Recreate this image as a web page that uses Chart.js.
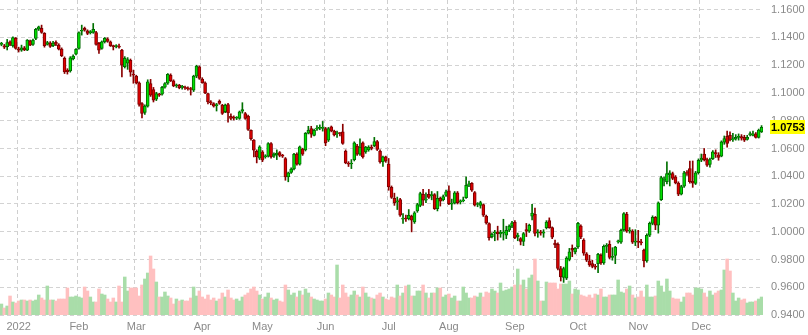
<!DOCTYPE html>
<html>
<head>
<meta charset="utf-8">
<script src="https://cdn.jsdelivr.net/npm/chart.js@4.4.1/dist/chart.umd.min.js"></script>
<style>
html,body{margin:0;padding:0;background:#ffffff;}
#wrap{width:808px;height:335px;position:relative;}
</style>
</head>
<body>
<div id="wrap"><canvas id="c" width="808" height="335"></canvas></div>
<script>
// ---- categories: trading days 2021-12-24 .. 2022-12-30 ----
const dates = [];
for (let d = new Date(Date.UTC(2021, 11, 24)); d <= new Date(Date.UTC(2022, 11, 30)); d.setUTCDate(d.getUTCDate() + 1)) {
  const w = d.getUTCDay();
  if (w > 0 && w < 6) dates.push(d.toISOString().slice(0, 10));
}
const monthLabels = ['2022','Feb','Mar','Apr','May','Jun','Jul','Aug','Sep','Oct','Nov','Dec'];
const yTicks = [0.94,0.96,0.98,1.00,1.02,1.04,1.06,1.08,1.10,1.12,1.14,1.16];

// ---- series values ----
const opens = [
1.1350,1.1340,1.1333,1.1368,1.1340,1.1393,1.1318,1.1309,1.1325,1.1309,1.1376,1.1350,1.1393,1.1460,1.1465,1.1429,1.1350,1.1362,1.1340,1.1365,
1.1345,1.1316,1.1249,1.1165,1.1159,1.1245,1.1280,1.1321,1.1445,1.1465,1.1448,1.1435,1.1436,1.1436,1.1357,1.1321,1.1369,1.1390,1.1369,1.1338,
1.1335,1.1336,1.1309,1.1190,1.1215,1.1235,1.1130,1.1121,1.1073,1.0924,1.0860,1.0905,1.1068,1.1025,1.0955,1.0988,1.0992,1.1042,1.1070,1.1128,
1.1088,1.1052,1.1056,1.1040,1.1042,1.1035,1.1030,1.1020,1.1121,1.1188,
1.1100,1.1073,1.0996,1.0932,1.0924,1.0909,1.0940,1.0912,1.0865,1.0917,1.0832,1.0820,1.0818,1.0816,1.0868,1.0852,1.0833,1.0730,1.0660,1.0580,
1.0530,1.0575,1.0540,1.0545,1.0636,1.0545,1.0553,1.0570,1.0548,1.0528,1.0395,1.0428,1.0452,1.0559,1.0487,1.0595,1.0590,1.0710,1.0744,1.0695,
1.0740,1.0746,1.0745,1.0744,1.0660,1.0756,1.0726,1.0705,1.0710,1.0720,1.0582,1.0490,1.0488,1.0520,1.0617,1.0559,1.0640,1.0575,1.0590,1.0610,
1.0620,1.0650,1.0582,1.0503,1.0539,1.0487,1.0320,1.0240,1.0215,1.0232,1.0090,1.0098,1.0095,1.0112,1.0070,1.0150,1.0190,1.0270,1.0228,1.0270,
1.0260,1.0268,1.0167,1.0240,1.0230,1.0262,1.0294,1.0198,1.0206,1.0280,1.0215,1.0222,1.0245,1.0338,1.0348,1.0283,1.0196,1.0190,1.0196,1.0112,
1.0058,0.9965,0.9990,1.0000,0.9985,0.9990,0.9975,1.0011,1.0040,1.0070,0.9965,0.9950,0.9930,1.0015,1.0004,1.0112,1.0126,0.9993,0.9995,0.9990,
1.0030,1.0080,1.0030,0.9918,0.9910,0.9735,0.9670,0.9665,0.9800,0.9880,0.9855,0.9890,1.0040,0.9940,0.9840,0.9790,0.9770,0.9752,0.9770,0.9830,
0.9775,0.9895,0.9910,0.9815,0.9830,0.9927,0.9925,1.0015,1.0126,1.0005,1.0005,0.9925,0.9928,0.9925,0.9867,0.9790,0.9975,1.0060,1.0103,1.0047,
1.0232,1.0371,1.0360,1.0410,1.0420,1.0395,1.0350,1.0270,1.0328,1.0425,1.0455,1.0365,1.0348,1.0425,1.0515,1.0560,1.0520,1.0485,1.0527,1.0570,
1.0555,1.0545,1.0645,1.0688,1.0695,1.0662,1.0668,1.0680,1.0685,1.0680,1.0665,1.0700,1.0695,1.0705,1.0680,1.0720
];
const highs = [
1.1365,1.1350,1.1386,1.1375,1.1405,1.1400,1.1330,1.1345,1.1335,1.1385,1.1382,1.1388,1.1465,1.1482,1.1489,1.1435,1.1372,1.1370,1.1372,1.1375,
1.1355,1.1325,1.1260,1.1175,1.1262,1.1275,1.1320,1.1440,1.1489,1.1475,1.1455,1.1450,1.1501,1.1445,1.1365,1.1375,1.1400,1.1398,1.1375,1.1345,
1.1348,1.1352,1.1315,1.1262,1.1255,1.1245,1.1165,1.1128,1.1080,1.0930,1.0915,1.1095,1.1098,1.1040,1.1005,1.0998,1.1048,1.1075,1.1140,1.1138,
1.1095,1.1065,1.1062,1.1055,1.1050,1.1045,1.1040,1.1128,1.1200,1.1195,
1.1110,1.1080,1.1000,1.0945,1.0930,1.0925,1.0950,1.0918,1.0920,1.0925,1.0850,1.0835,1.0830,1.0870,1.0930,1.0860,1.0840,1.0735,1.0665,1.0590,
1.0620,1.0585,1.0555,1.0642,1.0642,1.0568,1.0590,1.0578,1.0558,1.0535,1.0430,1.0460,1.0565,1.0568,1.0618,1.0602,1.0715,1.0760,1.0760,1.0740,
1.0765,1.0770,1.0795,1.0752,1.0752,1.0762,1.0732,1.0725,1.0715,1.0775,1.0590,1.0505,1.0520,1.0648,1.0630,1.0670,1.0648,1.0615,1.0620,1.0625,
1.0680,1.0658,1.0590,1.0545,1.0545,1.0528,1.0330,1.0278,1.0250,1.0240,1.0130,1.0120,1.0160,1.0120,1.0145,1.0205,1.0285,1.0305,1.0280,1.0305,
1.0290,1.0275,1.0290,1.0250,1.0265,1.0300,1.0330,1.0235,1.0290,1.0290,1.0230,1.0250,1.0395,1.0365,1.0355,1.0290,1.0210,1.0220,1.0200,1.0120,
1.0065,0.9992,1.0010,1.0040,1.0010,1.0090,1.0040,1.0050,1.0075,1.0080,0.9990,0.9958,0.9995,1.0060,1.0055,1.0198,1.0170,1.0015,1.0010,1.0015,
1.0080,1.0100,1.0035,0.9940,0.9920,0.9750,0.9745,0.9820,0.9880,0.9905,0.9885,1.0068,1.0050,0.9950,0.9850,0.9830,0.9795,0.9765,0.9845,0.9840,
0.9905,0.9915,0.9935,0.9885,0.9895,0.9940,1.0020,1.0138,1.0140,1.0030,1.0015,1.0015,1.0010,0.9945,0.9875,0.9985,1.0070,1.0115,1.0110,1.0215,
1.0400,1.0395,1.0503,1.0440,1.0430,1.0405,1.0360,1.0335,1.0435,1.0440,1.0510,1.0510,1.0435,1.0525,1.0560,1.0600,1.0530,1.0530,1.0585,1.0590,
1.0570,1.0655,1.0690,1.0725,1.0720,1.0710,1.0700,1.0705,1.0700,1.0695,1.0695,1.0720,1.0725,1.0715,1.0740,1.0765
];
const lows = [
1.1340,1.1320,1.1310,1.1340,1.1330,1.1315,1.1295,1.1300,1.1305,1.1305,1.1340,1.1342,1.1385,1.1450,1.1430,1.1330,1.1345,1.1328,1.1333,1.1340,
1.1310,1.1262,1.1140,1.1136,1.1150,1.1238,1.1275,1.1315,1.1417,1.1445,1.1420,1.1425,1.1430,1.1345,1.1285,1.1315,1.1360,1.1365,1.1335,1.1310,
1.1325,1.1322,1.1116,1.1180,1.1170,1.1120,1.1070,1.1065,1.0905,1.0820,1.0845,1.0898,1.0975,1.0935,1.0945,1.0975,1.0985,1.1035,1.1062,1.1082,
1.1045,1.1040,1.1030,1.1028,1.1025,1.1020,1.0985,1.1010,1.1110,1.1098,
1.1070,1.0995,1.0922,1.0915,1.0898,1.0870,1.0918,1.0845,1.0858,1.0789,1.0805,1.0805,1.0808,1.0810,1.0855,1.0810,1.0730,1.0660,1.0539,1.0496,
1.0520,1.0505,1.0530,1.0538,1.0530,1.0535,1.0520,1.0540,1.0535,1.0371,1.0360,1.0420,1.0445,1.0480,1.0480,1.0550,1.0582,1.0705,1.0680,1.0690,
1.0730,1.0735,1.0725,1.0620,1.0650,1.0720,1.0690,1.0680,1.0690,1.0630,1.0490,1.0470,1.0455,1.0510,1.0550,1.0550,1.0530,1.0565,1.0580,1.0590,
1.0612,1.0585,1.0495,1.0470,1.0500,1.0299,1.0240,1.0190,1.0160,1.0110,1.0060,1.0075,1.0085,0.9999,1.0060,1.0140,1.0180,1.0190,1.0210,1.0240,
1.0230,1.0160,1.0150,1.0185,1.0222,1.0255,1.0195,1.0160,1.0200,1.0200,1.0200,1.0215,1.0240,1.0325,1.0290,1.0185,1.0180,1.0170,1.0110,1.0055,
0.9939,0.9955,0.9935,0.9940,0.9960,0.9940,0.9950,1.0000,1.0030,0.9950,0.9935,0.9905,0.9900,0.9965,0.9995,1.0085,0.9970,0.9960,0.9975,0.9960,
1.0020,1.0025,0.9950,0.9885,0.9725,0.9645,0.9635,0.9655,0.9790,0.9820,0.9840,0.9880,0.9950,0.9830,0.9785,0.9750,0.9740,0.9730,0.9705,0.9765,
0.9765,0.9850,0.9805,0.9795,0.9770,0.9918,0.9915,1.0005,0.9995,0.9990,0.9915,0.9900,0.9885,0.9905,0.9746,0.9780,0.9965,1.0050,1.0015,0.9990,
1.0225,1.0330,1.0345,1.0330,1.0375,1.0345,1.0260,1.0265,1.0320,1.0405,1.0350,1.0320,1.0340,1.0415,1.0505,1.0510,1.0470,1.0465,1.0520,1.0535,
1.0515,1.0540,1.0630,1.0610,1.0655,1.0650,1.0660,1.0660,1.0660,1.0650,1.0660,1.0690,1.0690,1.0675,1.0675,1.0715
];
const closes = [
1.1355,1.1330,1.1364,1.1350,1.1400,1.1321,1.1308,1.1325,1.1310,1.1381,1.1345,1.1381,1.1458,1.1477,1.1436,1.1340,1.1364,1.1335,1.1360,1.1350,
1.1316,1.1268,1.1152,1.1153,1.1253,1.1265,1.1314,1.1436,1.1450,1.1453,1.1430,1.1440,1.1458,1.1350,1.1309,1.1369,1.1393,1.1372,1.1340,1.1334,
1.1338,1.1330,1.1200,1.1250,1.1240,1.1150,1.1128,1.1073,1.0917,1.0852,1.0905,1.1080,1.0984,1.0948,1.0996,1.0985,1.1040,1.1068,1.1135,1.1088,
1.1051,1.1055,1.1039,1.1042,1.1036,1.1030,1.1025,1.1121,1.1193,1.1104,
1.1075,1.1001,1.0936,1.0929,1.0905,1.0915,1.0925,1.0852,1.0912,1.0857,1.0816,1.0818,1.0822,1.0864,1.0880,1.0816,1.0737,1.0670,1.0588,1.0539,
1.0612,1.0515,1.0545,1.0636,1.0539,1.0560,1.0567,1.0550,1.0545,1.0395,1.0424,1.0452,1.0559,1.0487,1.0611,1.0559,1.0710,1.0730,1.0703,1.0730,
1.0744,1.0750,1.0748,1.0640,1.0744,1.0727,1.0697,1.0712,1.0708,1.0636,1.0496,1.0487,1.0494,1.0640,1.0559,1.0610,1.0539,1.0610,1.0610,1.0600,
1.0650,1.0593,1.0503,1.0539,1.0510,1.0323,1.0248,1.0210,1.0222,1.0119,1.0098,1.0092,1.0119,1.0083,1.0136,1.0195,1.0275,1.0227,1.0235,1.0248,
1.0265,1.0167,1.0240,1.0220,1.0253,1.0287,1.0203,1.0200,1.0280,1.0210,1.0218,1.0230,1.0335,1.0345,1.0299,1.0191,1.0196,1.0210,1.0119,1.0063,
0.9958,0.9982,0.9994,0.9985,0.9995,0.9994,1.0011,1.0040,1.0065,0.9958,0.9975,0.9930,0.9987,1.0005,1.0047,1.0135,0.9987,0.9995,0.9990,1.0000,
1.0070,1.0030,0.9960,0.9905,0.9735,0.9674,0.9735,0.9810,0.9855,0.9867,0.9880,1.0060,0.9962,0.9846,0.9795,0.9760,0.9750,0.9745,0.9837,0.9775,
0.9895,0.9897,0.9815,0.9818,0.9890,0.9930,1.0010,1.0130,1.0005,1.0008,0.9925,0.9928,0.9925,0.9920,0.9790,0.9975,1.0060,1.0103,1.0047,1.0208,
1.0391,1.0375,1.0420,1.0425,1.0385,1.0352,1.0270,1.0325,1.0425,1.0422,1.0360,1.0350,1.0425,1.0515,1.0530,1.0520,1.0480,1.0520,1.0575,1.0560,
1.0535,1.0648,1.0672,1.0636,1.0665,1.0670,1.0680,1.0682,1.0675,1.0660,1.0680,1.0702,1.0705,1.0680,1.0732,1.0753
];
const volumes = [
11,7,9,19,13,12,14,15,15,14,15,14,15,20,17,15,29,15,15,14,16,16,16,27,18,18,19,18,17,28,24,18,13,13,26,21,20,16,13,17,
13,29,13,38,24,27,27,27,19,30,36,42,59,46,33,18,18,23,19,17,11,16,14,15,14,14,17,28,19,24,
18,16,20,15,17,14,16,22,18,25,17,15,16,14,18,20,22,26,28,24,20,16,18,22,17,15,16,14,13,30,25,20,22,18,24,20,26,22,18,16,
15,14,14,16,22,20,18,50,17,30,22,18,20,24,20,18,28,22,18,17,16,20,22,18,16,15,18,17,30,
19,22,29,30,19,19,24,24,30,22,17,22,22,27,27,18,20,21,17,19,14,14,28,22,17,17,19,18,22,18,23,22,26,24,22,32,24,25,26,28,
30,46,30,35,26,37,40,56,34,14,14,33,32,32,32,26,31,31,31,34,21,26,25,20,19,18,20,17,21,20,
26,18,18,20,20,20,35,23,22,26,29,20,17,18,24,18,30,18,18,19,34,29,23,36,24,17,16,16,13,18,22,22,20,27,27,26,22,18,24,20,
22,24,25,45,56,44,22,14,17,15,16,12,13,13,14,16,18
];

const up = i => closes[i] >= opens[i];
const isMonthStart = i => i > 0 && dates[i].slice(5, 7) !== dates[i - 1].slice(5, 7);

const lastLabel = {
  id: 'lastLabel',
  afterDraw(chart) {
    const ctx = chart.ctx;
    const last = closes[closes.length - 1];
    const y = Math.round(chart.scales.y.getPixelForValue(last));
    const x = chart.chartArea.right + 7;
    ctx.save();
    ctx.fillStyle = '#ffff00';
    ctx.fillRect(x, y - 7, 35, 14);
    ctx.fillStyle = '#000000';
    ctx.font = 'bold 11px "Liberation Sans", Arial, sans-serif';
    ctx.textBaseline = 'middle';
    ctx.textAlign = 'left';
    ctx.fillText(last.toFixed(4), x + 1, y + 0.5);
    ctx.restore();
  }
};

new Chart(document.getElementById('c'), {
  type: 'bar',
  data: {
    labels: dates,
    datasets: [
      {
        label: 'body',
        data: opens.map((o, i) => [o, closes[i]]),
        yAxisID: 'y',
        backgroundColor: c => up(c.dataIndex) ? '#00e000' : '#dd0000',
        borderColor: c => up(c.dataIndex) ? '#006a00' : '#7a0000',
        borderWidth: 1,
        borderSkipped: false,
        barThickness: 3,
        minBarLength: 1,
        grouped: false,
        order: 0
      },
      {
        label: 'wick',
        data: lows.map((l, i) => [l, highs[i]]),
        yAxisID: 'y',
        backgroundColor: c => up(c.dataIndex) ? '#007000' : '#8a0000',
        borderWidth: 0,
        barThickness: 1,
        grouped: false,
        order: 1
      },
      {
        label: 'volume',
        data: volumes,
        yAxisID: 'yv',
        backgroundColor: c => up(c.dataIndex) ? '#a9dda9' : '#ffc0c0',
        borderWidth: 0,
        barPercentage: 1,
        categoryPercentage: 1,
        grouped: false,
        order: 2
      }
    ]
  },
  options: {
    responsive: false,
    animation: false,
    devicePixelRatio: 1,
    events: [],
    layout: { padding: 0 },
    plugins: { legend: { display: false }, tooltip: { enabled: false } },
    scales: {
      x: {
        offset: true,
        grid: {
          offset: true,
          drawTicks: false,
          color: c => isMonthStart(c.index) ? '#cfcfcf' : 'rgba(0,0,0,0)',
          lineWidth: 1
        },
        border: { display: false, dash: [4, 3] },
        ticks: {
          autoSkip: false,
          maxRotation: 0,
          minRotation: 0,
          padding: 5,
          color: '#8a8a8a',
          font: { family: '"Liberation Sans", Arial, sans-serif', size: 11 },
          callback: (v, i) => isMonthStart(i) ? monthLabels[+dates[i].slice(5, 7) - 1] : ''
        },
        afterFit: s => { s.height = 20; s.paddingLeft = 0; s.paddingRight = 0; }
      },
      y: {
        position: 'right',
        min: 0.94,
        max: 1.167,
        grid: { drawTicks: false, color: '#d3d3d3', lineWidth: 1 },
        border: { display: false, dash: [4, 3] },
        afterBuildTicks: s => { s.ticks = yTicks.map(v => ({ value: v })); },
        ticks: {
          padding: 8,
          color: '#8a8a8a',
          font: { family: '"Liberation Sans", Arial, sans-serif', size: 11 },
          callback: v => Number(v).toFixed(4)
        },
        afterFit: s => { s.width = 45; s.paddingTop = 0; s.paddingBottom = 0; }
      },
      yv: {
        display: false,
        min: 0,
        max: 315
      }
    }
  },
  plugins: [lastLabel]
});
</script>
</body>
</html>
